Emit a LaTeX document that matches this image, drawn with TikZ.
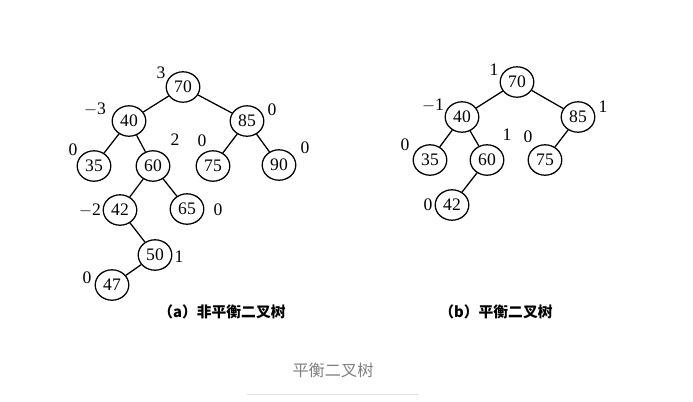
\documentclass[tikz,border=0pt]{standalone}
\usepackage{fontspec}
\setmainfont{Liberation Serif}
\newfontfamily\cjk{Noto Sans CJK SC}
\usetikzlibrary{shapes.geometric}

\begin{document}
\begin{tikzpicture}[x=0.025cm,y=-0.025cm,
    vtx/.style={draw,ellipse,line width=0.9pt,minimum width=0.84cm,minimum height=0.76cm,inner sep=0pt,font=\fontsize{12.5}{14}\selectfont},
    bal/.style={font=\fontsize{12.5}{14}\selectfont,inner sep=0pt},
    edge/.style={line width=0.9pt}]
      \useasboundingbox (0,0) rectangle (693,402);
      % (a) unbalanced tree
      \node[vtx] (a70) at (183,87) {70};
      \node[vtx] (a40) at (129,121) {40};
      \node[vtx] (a85) at (247,121) {85};
      \node[vtx] (a35) at (94,166) {35};
      \node[vtx] (a60) at (153,166) {60};
      \node[vtx] (a75) at (213,166) {75};
      \node[vtx] (a90) at (279,165) {90};
      \node[vtx] (a42) at (120,210) {42};
      \node[vtx] (a65) at (187,209) {65};
      \node[vtx] (a50) at (155,255) {50};
      \node[vtx] (a47) at (112,285) {47};
      \draw[edge] (a70) -- (a40);
      \draw[edge] (a70) -- (a85);
      \draw[edge] (a40) -- (a35);
      \draw[edge] (a40) -- (a60);
      \draw[edge] (a85) -- (a75);
      \draw[edge] (a85) -- (a90);
      \draw[edge] (a60) -- (a42);
      \draw[edge] (a60) -- (a65);
      \draw[edge] (a42) -- (a50);
      \draw[edge] (a50) -- (a47);
      \node[bal] (ba70) at (161,73) {3};
      \node[bal] (ba40) at (95,109) {$-$3};
      \node[bal] (ba85) at (272,110) {0};
      \node[bal] (ba35) at (73,150) {0};
      \node[bal] (ba60) at (175,140) {2};
      \node[bal] (ba75) at (202,141) {0};
      \node[bal] (ba90) at (305,148) {0};
      \node[bal] (ba42) at (90,210) {$-$2};
      \node[bal] (ba65) at (218,210) {0};
      \node[bal] (ba50) at (179,257) {1};
      \node[bal] (ba47) at (87,278) {0};
      \node[font=\cjk\bfseries\fontsize{10.5}{12}\selectfont] (capa) at (222,312) {（a）非平衡二叉树};
      % (b) balanced tree
      \node[vtx] (b70) at (517,82) {70};
      \node[vtx] (b40) at (462,117) {40};
      \node[vtx] (b85) at (578,117) {85};
      \node[vtx] (b35) at (430,160) {35};
      \node[vtx] (b60) at (487,160) {60};
      \node[vtx] (b75) at (545,160) {75};
      \node[vtx] (b42) at (452,205) {42};
      \draw[edge] (b70) -- (b40);
      \draw[edge] (b70) -- (b85);
      \draw[edge] (b40) -- (b35);
      \draw[edge] (b40) -- (b60);
      \draw[edge] (b85) -- (b75);
      \draw[edge] (b60) -- (b42);
      \node[bal] (bb70) at (494,70) {1};
      \node[bal] (bb40) at (433,105) {$-$1};
      \node[bal] (bb85) at (603,107) {1};
      \node[bal] (bb60) at (507,135) {1};
      \node[bal] (bb75) at (528,137) {0};
      \node[bal] (bb35) at (405,145) {0};
      \node[bal] (bb42) at (428,205) {0};
      \node[font=\cjk\bfseries\fontsize{10.5}{12}\selectfont] (capb) at (496,312) {（b）平衡二叉树};
      % figure caption
      \node[font=\cjk\fontsize{11.5}{13}\selectfont,text=black!50] (title) at (333,370) {平衡二叉树};
      \draw[black!12,line width=0.6pt] (247,394) -- (419,394);
\end{tikzpicture}
\end{document}
